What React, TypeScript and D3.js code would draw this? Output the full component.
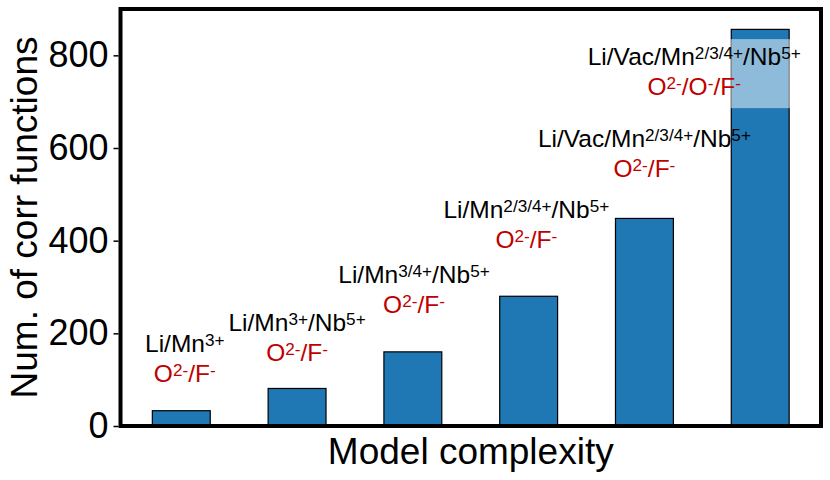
import React, { useEffect, useRef } from 'react';
import * as d3 from 'd3';

// bar heights (number of correlation functions) for each model
const models = ['m1', 'm2', 'm3', 'm4', 'm5', 'm6'];
const counts = [33, 81, 160, 280, 448, 856];

// cation / anion sublattice labels, ^{..} marks a superscript
const cationLabels = [
  'Li/Mn^{3+}',
  'Li/Mn^{3+}/Nb^{5+}',
  'Li/Mn^{3/4+}/Nb^{5+}',
  'Li/Mn^{2/3/4+}/Nb^{5+}',
  'Li/Vac/Mn^{2/3/4+}/Nb^{5+}',
  'Li/Vac/Mn^{2/3/4+}/Nb^{5+}',
];
const anionLabels = [
  'O^{2-}/F^{-}',
  'O^{2-}/F^{-}',
  'O^{2-}/F^{-}',
  'O^{2-}/F^{-}',
  'O^{2-}/F^{-}',
  'O^{2-}/O^{-}/F^{-}',
];
// where the annotations sit (data units) and their shift along x (in bar steps)
const labelY = [160, 205, 309, 449, 602, 779];
const labelShift = [0.03, 0, 0.01, -0.02, 0, -0.57];

// lighter band drawn over the last bar
const highlight = [686, 835];

const yTicks = [0, 200, 400, 600, 800];

const W = 830;
const H = 480;
const margin = { top: 9, right: 9, bottom: 54, left: 120.5 };
const FONT = '"Liberation Sans", Arial, sans-serif';

function Rich({ text, x, y, fill, size }: { text: string; x: number; y: number; fill: string; size: number }) {
  const parts = text.split(/(\^\{[^}]*\})/).filter((p) => p.length);
  const supSize = size * 0.7;
  const rise = 6;
  let raised = false;
  return (
    <text x={x} y={y} fill={fill} fontSize={size} fontFamily={FONT} textAnchor="middle">
      {parts.map((p, i) => {
        if (p.startsWith('^{')) {
          const dy = raised ? 0 : -rise;
          raised = true;
          return (
            <tspan key={i} fontSize={supSize} dy={dy}>
              {p.slice(2, -1)}
            </tspan>
          );
        }
        const dy = raised ? rise : 0;
        raised = false;
        return (
          <tspan key={i} dy={dy}>
            {p}
          </tspan>
        );
      })}
    </text>
  );
}

const App: React.FC = () => {
  const axisRef = useRef<SVGGElement | null>(null);

  const x = d3
    .scaleBand()
    .domain(models)
    .range([margin.left, W - margin.right])
    .paddingInner(0.5)
    .paddingOuter(0.275);

  const y = d3
    .scaleLinear()
    .domain([0, 900])
    .range([H - margin.bottom, margin.top]);

  useEffect(() => {
    if (!axisRef.current) return;
    const g = d3.select(axisRef.current);
    g.selectAll('*').remove();
    g.call(d3.axisLeft(y).tickValues(yTicks).tickSize(5).tickPadding(5));
    g.select('.domain').remove();
    g.selectAll('.tick line').attr('stroke', '#000').attr('stroke-width', 1.5);
    g.selectAll('.tick text')
      .attr('font-size', 36)
      .attr('font-family', FONT)
      .attr('fill', '#000');
  }, []);

  const bw = x.bandwidth();
  const step = x.step();
  const last = models[models.length - 1];

  return (
    <svg width={W} height={H} style={{ position: 'absolute', left: 0, top: 0, background: '#fff' }}>
      {models.map((m, i) => (
        <rect
          key={m}
          x={x(m)!}
          y={y(counts[i])}
          width={bw}
          height={y(0) - y(counts[i])}
          fill="#1f77b4"
          stroke="#000"
          strokeWidth={1.2}
        />
      ))}
      <rect
        x={x(last)! - 0.8}
        y={y(highlight[1])}
        width={bw + 1.6}
        height={y(highlight[0]) - y(highlight[1])}
        fill="#fff"
        fillOpacity={0.5}
      />
      {models.map((m, i) => {
        const cx = x(m)! + bw / 2 + labelShift[i] * step;
        return (
          <g key={'lab' + m}>
            <Rich text={cationLabels[i]} x={cx} y={y(labelY[i])} fill="#000" size={24.5} />
            <Rich text={anionLabels[i]} x={cx} y={y(labelY[i]) + 30} fill="#c00000" size={24.5} />
          </g>
        );
      })}
      <rect
        x={margin.left}
        y={margin.top}
        width={W - margin.left - margin.right}
        height={H - margin.top - margin.bottom}
        fill="none"
        stroke="#000"
        strokeWidth={4}
      />
      <g ref={axisRef} transform={`translate(${margin.left - 2},0)`} />
      <text
        x={(margin.left + W - margin.right) / 2}
        y={464}
        textAnchor="middle"
        fontSize={37}
        fontFamily={FONT}
      >
        Model complexity
      </text>
      <text
        transform={`translate(37,${(margin.top + H - margin.bottom) / 2}) rotate(-90)`}
        textAnchor="middle"
        fontSize={37}
        fontFamily={FONT}
      >
        Num. of corr functions
      </text>
    </svg>
  );
};

export default App;
